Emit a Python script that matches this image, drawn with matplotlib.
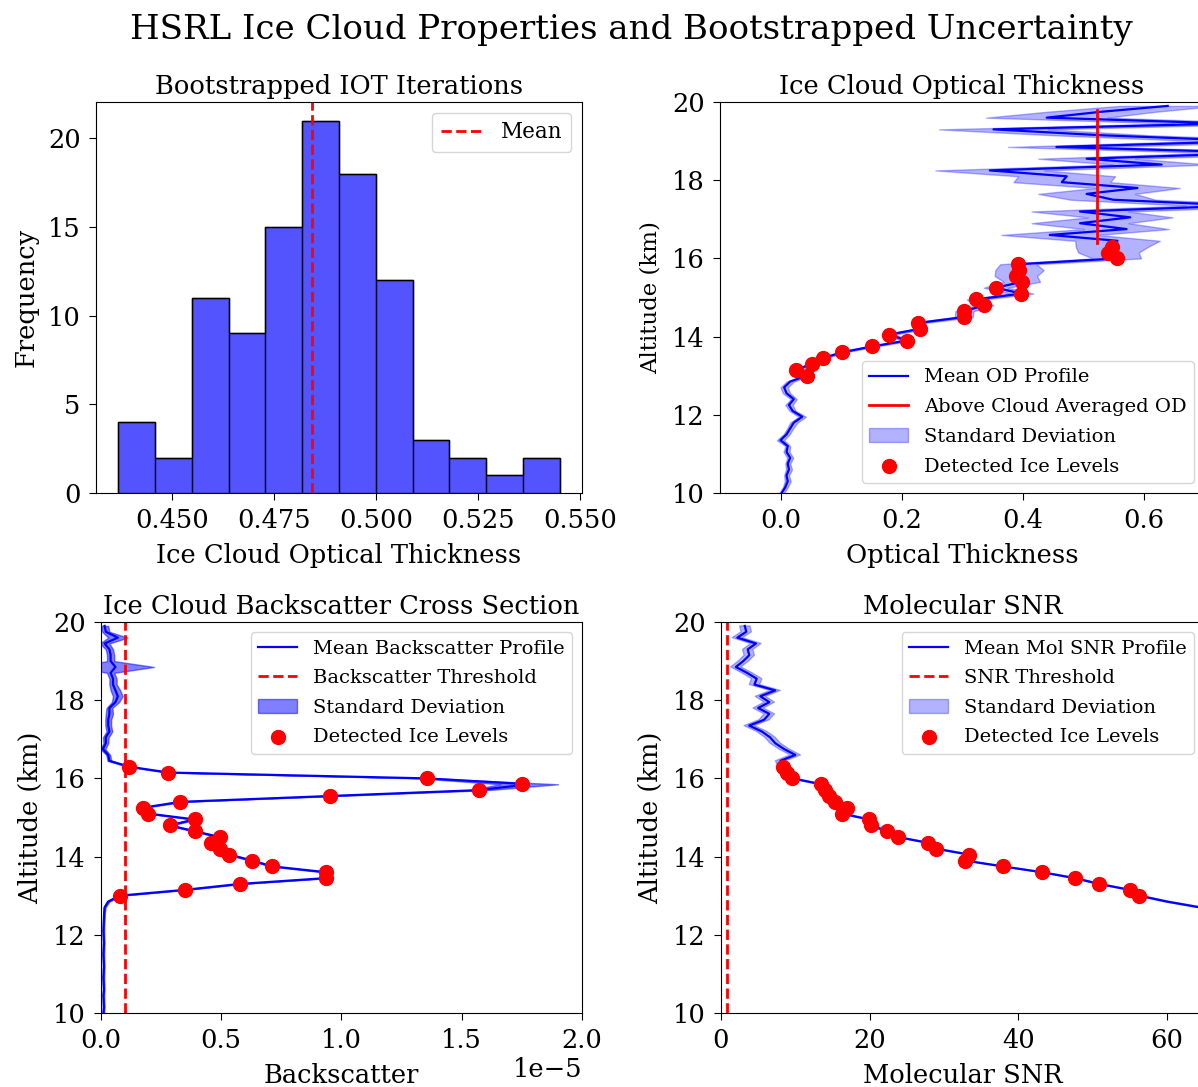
import numpy as np
import matplotlib
matplotlib.use("Agg")
import matplotlib.pyplot as plt
from matplotlib.ticker import MultipleLocator, FormatStrFormatter

plt.rcParams['font.family'] = ['DejaVu Serif']

# ---------------- data ----------------
# Histogram of bootstrapped ice optical thickness
hist_edges_lo = 0.4368
hist_edges_hi = 0.5450
hist_counts = [4, 2, 11, 9, 15, 21, 18, 12, 3, 2, 1, 2]
iot_mean = 0.4844

# altitude grid (km)
altitude = [10.00, 10.15, 10.30, 10.45, 10.60, 10.75, 10.90, 11.05, 11.20, 11.35,
            11.50, 11.65, 11.80, 11.95, 12.10, 12.25, 12.40, 12.55, 12.70, 12.85,
            13.00, 13.15, 13.30, 13.45, 13.60, 13.75, 13.90, 14.05, 14.20, 14.35,
            14.50, 14.65, 14.80, 14.95, 15.10, 15.25, 15.40, 15.55, 15.70, 15.85,
            16.00, 16.15, 16.30, 16.45, 16.60, 16.75, 16.90, 17.05, 17.20, 17.35,
            17.50, 17.65, 17.80, 17.95, 18.10, 18.25, 18.40, 18.55, 18.70, 18.85,
            19.00, 19.15, 19.30, 19.45, 19.60, 19.75, 19.90]

# optical depth profile (mean) and std
od_mean = [0.002, 0.008, 0.012, 0.010, 0.014, 0.012, 0.016, 0.010, 0.012, 0.000,
           0.010, 0.016, 0.022, 0.036, 0.020, 0.014, 0.022, 0.010, 0.006, 0.016,
           0.043, 0.025, 0.052, 0.070, 0.102, 0.152, 0.209, 0.179, 0.231, 0.228,
           0.303, 0.304, 0.337, 0.323, 0.398, 0.356, 0.399, 0.389, 0.395, 0.393,
           0.556, 0.542, 0.548, 0.557, 0.445, 0.572, 0.495, 0.578, 0.495, 0.760,
           0.550, 0.506, 0.590, 0.465, 0.473, 0.346, 0.630, 0.506, 0.800, 0.456,
           0.780, 0.530, 0.352, 0.740, 0.440, 0.530, 0.640]
od_std = [0.004, 0.004, 0.005, 0.004, 0.005, 0.004, 0.005, 0.005, 0.004, 0.006,
          0.005, 0.005, 0.006, 0.006, 0.005, 0.006, 0.005, 0.006, 0.006, 0.006,
          0.006, 0.006, 0.006, 0.006, 0.006, 0.008, 0.008, 0.010, 0.010, 0.012,
          0.015, 0.015, 0.015, 0.015, 0.020, 0.020, 0.030, 0.035, 0.040, 0.030,
          0.040, 0.050, 0.060, 0.070, 0.080, 0.070, 0.080, 0.070, 0.080, 0.090,
          0.070, 0.080, 0.070, 0.080, 0.080, 0.090, 0.080, 0.080, 0.090, 0.080,
          0.090, 0.080, 0.090, 0.090, 0.100, 0.090, 0.080]
od_above_cloud_avg = 0.523
od_above_cloud_lo = 16.40
od_above_cloud_hi = 19.80

# detected ice levels (altitude, values)
ice_alt = [13.00, 13.15, 13.30, 13.45, 13.60, 13.75, 13.90, 14.05, 14.20, 14.35,
           14.50, 14.65, 14.80, 14.95, 15.10, 15.25, 15.40, 15.55, 15.70, 15.85,
           16.00, 16.15, 16.30]
ice_od = [0.043, 0.025, 0.052, 0.070, 0.102, 0.152, 0.209, 0.179, 0.231, 0.228,
          0.303, 0.304, 0.337, 0.323, 0.398, 0.356, 0.399, 0.389, 0.395, 0.393,
          0.556, 0.542, 0.548]

# backscatter profile (x 1e-5)
bs_mean = [0.010, 0.012, 0.011, 0.010, 0.012, 0.011, 0.010, 0.011, 0.012, 0.011,
           0.010, 0.011, 0.012, 0.011, 0.010, 0.011, 0.012, 0.013, 0.015, 0.030,
           0.077, 0.349, 0.576, 0.936, 0.936, 0.712, 0.627, 0.534, 0.493, 0.458,
           0.493, 0.389, 0.285, 0.389, 0.197, 0.174, 0.330, 0.953, 1.570, 1.780,
           1.356, 0.280, 0.116, 0.035, 0.030, 0.008, 0.020, 0.020, 0.035, 0.030,
           0.030, 0.035, 0.035, 0.060, 0.070, 0.060, 0.050, 0.050, 0.040, 0.060,
           0.040, 0.040, 0.035, 0.015, 0.070, 0.020, 0.015]
bs_std = [0.003, 0.003, 0.003, 0.003, 0.003, 0.003, 0.003, 0.003, 0.003, 0.003,
          0.003, 0.003, 0.003, 0.003, 0.003, 0.003, 0.003, 0.003, 0.004, 0.005,
          0.008, 0.010, 0.010, 0.015, 0.015, 0.010, 0.010, 0.010, 0.010, 0.010,
          0.010, 0.010, 0.010, 0.010, 0.010, 0.010, 0.010, 0.020, 0.040, 0.120,
          0.030, 0.010, 0.008, 0.008, 0.008, 0.010, 0.010, 0.012, 0.012, 0.012,
          0.012, 0.015, 0.012, 0.015, 0.020, 0.020, 0.015, 0.015, 0.015, 0.160,
          0.015, 0.015, 0.015, 0.020, 0.040, 0.015, 0.015]
ice_bs = [0.077, 0.349, 0.576, 0.936, 0.936, 0.712, 0.627, 0.534, 0.493, 0.458,
          0.493, 0.389, 0.285, 0.389, 0.197, 0.174, 0.330, 0.953, 1.570, 1.750,
          1.356, 0.280, 0.116]
bs_threshold = 0.1

# molecular SNR profile
snr_mean = [240.0, 225.0, 210.0, 196.0, 183.0, 170.0, 158.0, 147.0, 137.0, 127.0,
            118.0, 110.0, 102.0, 95.0, 88.0, 82.0, 76.0, 70.0, 64.5, 60.0,
            56.3, 55.0, 50.9, 47.6, 43.2, 37.9, 32.8, 33.4, 29.0, 27.9,
            23.8, 22.3, 20.2, 19.9, 16.3, 17.0, 15.3, 14.5, 14.0, 13.5,
            9.6, 8.9, 8.3, 8.0, 10.0, 8.5, 7.3, 6.6, 5.5, 3.8,
            5.8, 6.5, 5.0, 6.5, 5.3, 7.3, 4.5, 4.8, 3.5, 2.0,
            3.0, 3.8, 3.6, 4.7, 2.2, 3.4, 3.2]
snr_std = [0.6, 0.6, 0.6, 0.6, 0.6, 0.6, 0.6, 0.6, 0.6, 0.6,
           0.5, 0.5, 0.5, 0.5, 0.5, 0.5, 0.5, 0.5, 0.5, 0.5,
           0.4, 0.4, 0.4, 0.4, 0.4, 0.4, 0.4, 0.4, 0.4, 0.4,
           0.4, 0.4, 0.4, 0.4, 0.4, 0.4, 0.4, 0.4, 0.4, 0.4,
           0.5, 0.5, 0.6, 0.7, 0.7, 0.7, 0.7, 0.7, 0.7, 0.7,
           0.7, 0.7, 0.7, 0.7, 0.7, 0.7, 0.7, 0.7, 0.7, 0.7,
           0.7, 0.7, 0.7, 0.7, 0.7, 0.7, 0.7]
ice_snr = [56.3, 55.0, 50.9, 47.6, 43.2, 37.9, 32.8, 33.4, 29.0, 27.9,
           23.8, 22.3, 20.2, 19.9, 16.3, 17.0, 15.3, 14.5, 14.0, 13.5,
           9.6, 8.9, 8.3]
snr_threshold = 0.8

# ---------------- figure ----------------
W, H = 1198, 1087
fig = plt.figure(figsize=(W / 100, H / 100), dpi=100)

def px_axes(l, t, r, b):
    return fig.add_axes([l / W, 1 - b / H, (r - l) / W, (b - t) / H])

TS, LS, KS, GS = 18.5, 18.5, 18.5, 14
LP = 7
DOT = 100

ax1 = px_axes(96, 102, 582, 493)
ax2 = px_axes(720, 102, 1204, 493)
ax3 = px_axes(101, 622, 582, 1013)
ax4 = px_axes(721, 622, 1204, 1013)

alt = np.array(altitude)

# --- histogram
edges = np.linspace(hist_edges_lo, hist_edges_hi, len(hist_counts) + 1)
centers = 0.5 * (edges[:-1] + edges[1:])
ax1.hist(centers, bins=edges, weights=hist_counts, color='blue', alpha=0.67,
         edgecolor='black')
ax1.hist(centers, bins=edges, weights=hist_counts, histtype='step',
         edgecolor='black', linewidth=1.0)
ax1.axvline(iot_mean, color='red', linestyle='--', linewidth=2, label='Mean')
ax1.xaxis.set_major_locator(MultipleLocator(0.025))
ax1.xaxis.set_major_formatter(FormatStrFormatter('%.3f'))
ax1.set_title('Bootstrapped IOT Iterations', fontsize=TS)
ax1.set_xlabel('Ice Cloud Optical Thickness', fontsize=LS, labelpad=LP)
ax1.set_ylabel('Frequency', fontsize=LS, labelpad=LP)
ax1.legend(fontsize=15.5, loc='upper right')

# --- optical depth
om = np.array(od_mean); osd = np.array(od_std)
ax2.plot(om, alt, color='blue', linewidth=1.6, label='Mean OD Profile')
ax2.plot([od_above_cloud_avg, od_above_cloud_avg],
         [od_above_cloud_lo, od_above_cloud_hi], color='red', linewidth=2,
         label='Above Cloud Averaged OD')
ax2.fill_betweenx(alt, om - osd, om + osd, color='blue', alpha=0.3,
                  label='Standard Deviation')
ax2.scatter(ice_od, ice_alt, color='red', s=DOT, zorder=3,
            label='Detected Ice Levels')
ax2.set_xlim(-0.1, 0.7)
ax2.set_ylim(10, 20)
ax2.set_title('Ice Cloud Optical Thickness', fontsize=TS)
ax2.set_xlabel('Optical Thickness', fontsize=LS, labelpad=LP)
ax2.set_ylabel('Altitude (km)', fontsize=16.5, labelpad=LP)
ax2.legend(fontsize=GS, loc='lower right', labelspacing=0.6)

# --- backscatter
bm = np.array(bs_mean) * 1e-5; bsd = np.array(bs_std) * 1e-5
ax3.plot(bm, alt, color='blue', linewidth=1.6, label='Mean Backscatter Profile')
ax3.axvline(bs_threshold * 1e-5, color='red', linestyle='--', linewidth=2,
            label='Backscatter Threshold')
ax3.fill_betweenx(alt, bm - bsd, bm + bsd, color='blue', alpha=0.5,
                  label='Standard Deviation')
ax3.scatter(np.array(ice_bs) * 1e-5, ice_alt, color='red', s=DOT, zorder=3,
            label='Detected Ice Levels')
ax3.set_xlim(0, 2e-5)
ax3.set_ylim(10, 20)
ax3.set_title('Ice Cloud Backscatter Cross Section', fontsize=TS)
ax3.set_xlabel('Backscatter', fontsize=LS, labelpad=LP)
ax3.set_ylabel('Altitude (km)', fontsize=LS, labelpad=LP)
ax3.xaxis.get_offset_text().set_fontsize(KS)
ax3.legend(fontsize=GS, loc='upper right', labelspacing=0.6)

# --- molecular SNR
sm = np.array(snr_mean); ssd = np.array(snr_std)
ax4.plot(sm, alt, color='blue', linewidth=1.6, label='Mean Mol SNR Profile')
ax4.axvline(snr_threshold, color='red', linestyle='--', linewidth=2,
            label='SNR Threshold')
ax4.fill_betweenx(alt, sm - ssd, sm + ssd, color='blue', alpha=0.3,
                  label='Standard Deviation')
ax4.scatter(ice_snr, ice_alt, color='red', s=DOT, zorder=3,
            label='Detected Ice Levels')
ax4.set_xlim(0, 65)
ax4.set_ylim(10, 20)
ax4.xaxis.set_major_locator(MultipleLocator(20))
ax4.set_title('Molecular SNR', fontsize=TS)
ax4.set_xlabel('Molecular SNR', fontsize=LS, labelpad=LP)
ax4.set_ylabel('Altitude (km)', fontsize=LS, labelpad=LP)
ax4.legend(fontsize=GS, loc='upper right', labelspacing=0.6)

for ax in (ax1, ax2, ax3, ax4):
    ax.tick_params(labelsize=KS, pad=6, length=5)

fig.suptitle('HSRL Ice Cloud Properties and Bootstrapped Uncertainty',
             fontsize=24.5, x=631 / W, y=1 - 30 / H, va='center')

fig.savefig('out.png', dpi=100)
